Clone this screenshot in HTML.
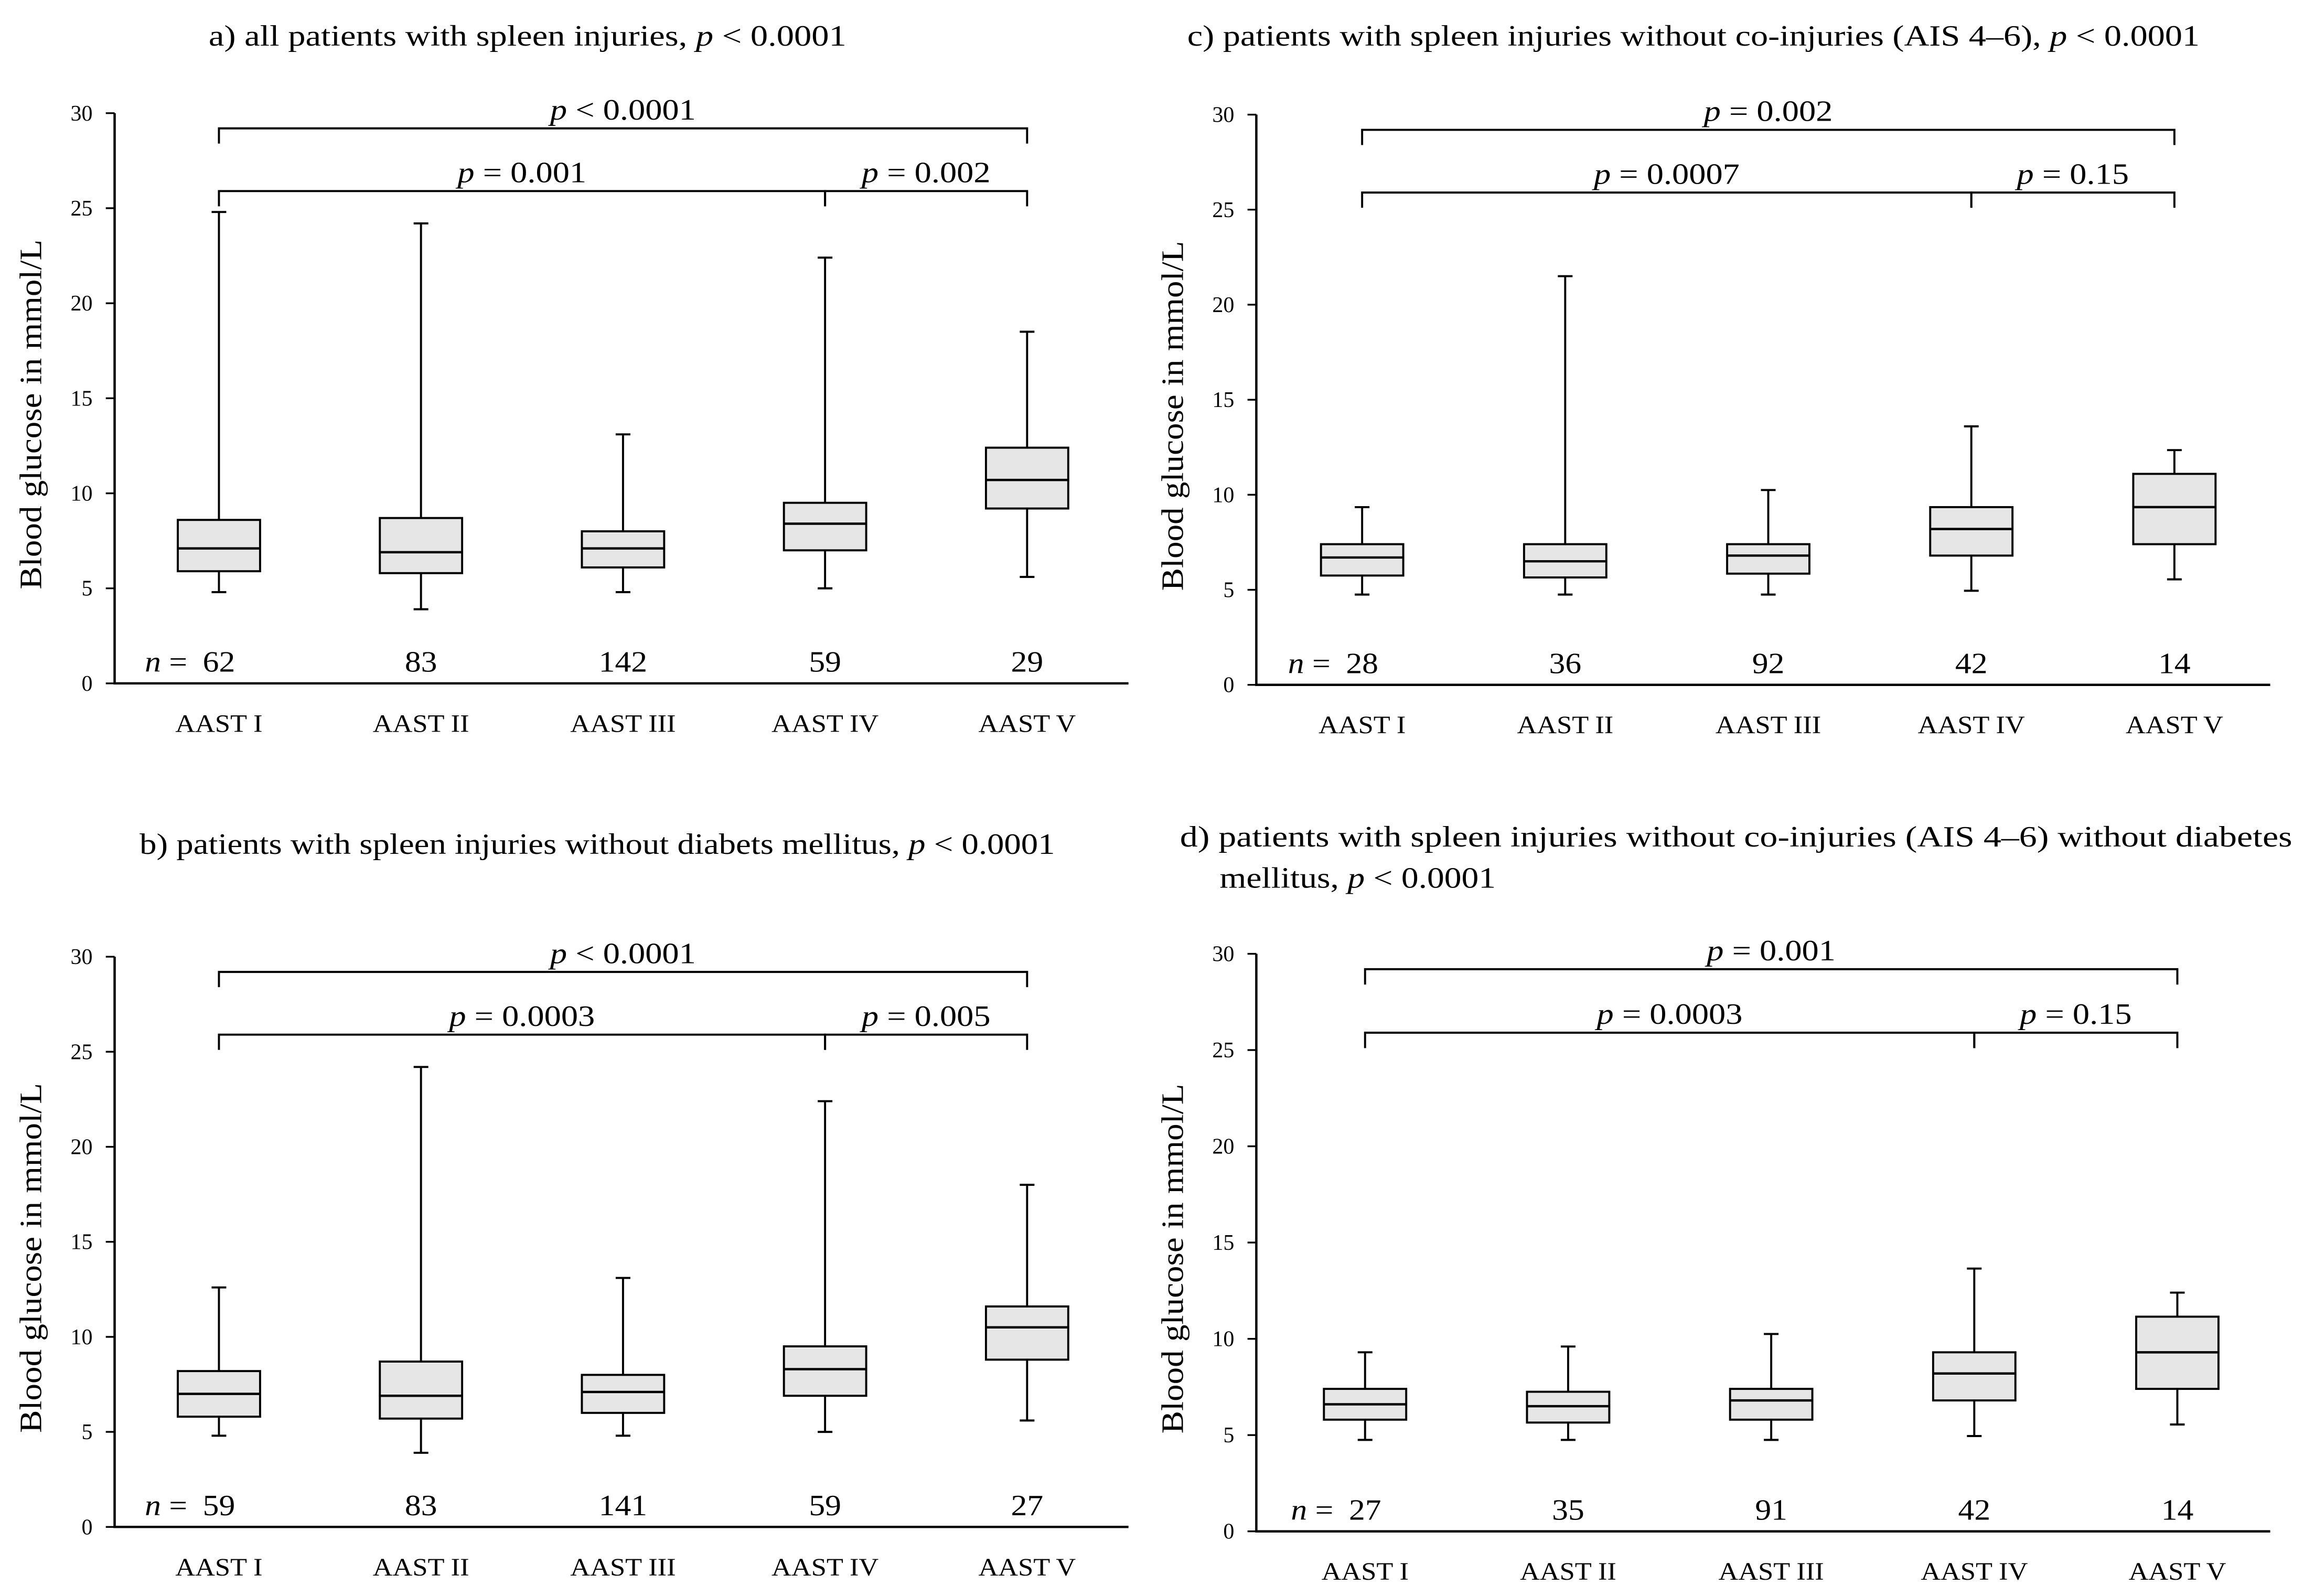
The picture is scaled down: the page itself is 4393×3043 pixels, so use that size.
<!DOCTYPE html>
<html><head><meta charset="utf-8"><style>
html,body{margin:0;padding:0;background:#fff}
svg{display:block}
text{font-family:"Liberation Serif",serif;fill:#000}
</style></head><body>
<svg id="fig" width="4393" height="3043" viewBox="0 0 1568 1086" preserveAspectRatio="none" xmlns="http://www.w3.org/2000/svg"></svg>
<script>
const categories = ["AAST I","AAST II","AAST III","AAST IV","AAST V"];
// [low whisker, Q1, median, Q3, high whisker]
const panelA = [[4.8,5.9,7.1,8.6,24.8],[3.9,5.8,6.9,8.7,24.2],[4.8,6.1,7.1,8.0,13.1],[5.0,7.0,8.4,9.5,22.4],[5.6,9.2,10.7,12.4,18.5]];
const panelB = [[4.8,5.8,7.0,8.2,12.6],[3.9,5.7,6.9,8.7,24.2],[4.8,6.0,7.1,8.0,13.1],[5.0,6.9,8.3,9.5,22.4],[5.6,8.8,10.5,11.6,18.0]];
const panelC = [[4.75,5.75,6.7,7.4,9.35],[4.75,5.65,6.5,7.4,21.5],[4.75,5.85,6.8,7.4,10.25],[4.95,6.8,8.2,9.35,13.6],[5.55,7.4,9.35,11.1,12.35]];
const panelD = [[4.75,5.8,6.6,7.4,9.3],[4.75,5.65,6.5,7.25,9.6],[4.75,5.8,6.8,7.4,10.25],[4.95,6.8,8.2,9.3,13.65],[5.55,7.4,9.3,11.15,12.4]];
const nA = ["62","83","142","59","29"];
const nB = ["59","83","141","59","27"];
const nC = ["28","36","92","42","14"];
const nD = ["27","35","91","42","14"];
const pA = ["p < 0.0001","p = 0.001","p = 0.002"];
const pB = ["p < 0.0001","p = 0.0003","p = 0.005"];
const pC = ["p = 0.002","p = 0.0007","p = 0.15"];
const pD = ["p = 0.001","p = 0.0003","p = 0.15"];
const yTicks = [0,5,10,15,20,25,30];

const NS="http://www.w3.org/2000/svg";
const svg=document.getElementById('fig');
function mk(tag,attrs,parent){const e=document.createElementNS(NS,tag);for(const k in attrs)e.setAttribute(k,attrs[k]);(parent||svg).appendChild(e);return e;}
function ptext(parent,x,y,str,size,anchor,sx){
  const t=mk('text',{x:0,y:0,'font-size':size,'text-anchor':anchor||'middle',transform:`translate(${x},${y}) scale(${sx||1},1)`},parent);
  const m=str.match(/^(p|n)(.*)$/);
  if(m){const s=mk('tspan',{'font-style':'italic'},t);s.textContent=m[1];const r=mk('tspan',{},t);r.textContent=m[2];}
  else t.textContent=str;
  return t;
}
function panel(cfg){
  const g=mk('g',{});
  
  
  const ax=cfg.ax, y0=cfg.y0, y30=cfg.y30;
  const ys=v=>y0-(y0-y30)*v/30;
  const xs=i=>cfg.cx0+i*cfg.step;
  cfg.title.forEach((ln,k)=>{
    const t=mk('text',{x:ln.x,y:ln.y,'font-size':20,textLength:ln.w,lengthAdjust:'spacingAndGlyphs'},g);
    
    
    ln.parts.forEach(p=>{const s=mk('tspan',p[1]?{'font-style':'italic'}:{},t);s.textContent=p[0];});
  });
  const axes=mk('path',{d:`M${ax} ${y30}V${y0}H${ax+690}`,stroke:'#000','stroke-width':1.6,fill:'none'},g);
  
  
  yTicks.forEach(v=>{
    mk('line',{x1:ax-6,x2:ax,y1:ys(v),y2:ys(v),stroke:'#000','stroke-width':1.2},g);
    const t=mk('text',{x:ax-15,y:ys(v)+5,'font-size':15,'text-anchor':'end'},g);
    
    
    t.textContent=v;
  });
  const yl=mk('text',{x:0,y:0,'font-size':21,'text-anchor':'middle',textLength:238,lengthAdjust:'spacingAndGlyphs',transform:`translate(${ax-50},${(y0+y30)/2+11}) rotate(-90)`},g);
  
  
  yl.textContent='Blood glucose in mmol/L';
  cfg.data.forEach((d,i)=>{
    const x=xs(i);
    const bx=mk('g',{},g);
    
    
    mk('line',{x1:x,x2:x,y1:ys(d[4]),y2:ys(d[3]),stroke:'#000','stroke-width':1.4},bx);
    mk('line',{x1:x,x2:x,y1:ys(d[1]),y2:ys(d[0]),stroke:'#000','stroke-width':1.4},bx);
    mk('line',{x1:x-5,x2:x+5,y1:ys(d[4]),y2:ys(d[4]),stroke:'#000','stroke-width':1.4},bx);
    mk('line',{x1:x-5,x2:x+5,y1:ys(d[0]),y2:ys(d[0]),stroke:'#000','stroke-width':1.4},bx);
    mk('rect',{x:x-28,y:ys(d[3]),width:56,height:ys(d[1])-ys(d[3]),fill:'#e6e6e6',stroke:'#000','stroke-width':1.4},bx);
    mk('line',{x1:x-28,x2:x+28,y1:ys(d[2]),y2:ys(d[2]),stroke:'#000','stroke-width':1.6},bx);
    const nt=ptext(g,x,y0-8,cfg.n[i],20,'middle',1.1);
    
    
    const xl=ptext(g,x,y0+33,categories[i],17,'middle',1.1);
    
    
  });
  const nl=ptext(g,xs(0)-36,y0-8,'n =',20,'middle',1.1);
  
  
  const br=[[0,4,29.2,28.4],[0,3,25.9,25.1],[3,4,25.9,25.1]];
  br.forEach((b,k)=>{
    const x1=xs(b[0]),x2=xs(b[1]);
    const p=mk('path',{d:`M${x1} ${ys(b[3])}V${ys(b[2])}H${x2}V${ys(b[3])}`,stroke:'#000','stroke-width':1.4,fill:'none'},g);
    
    
    const t=ptext(g,(x1+x2)/2,ys(b[2])-6,cfg.p[k],20,'middle',1.15);
    
    
  });
}
panel({name:'panel-a',ax:78,y0:465,y30:77,cx0:149,step:137.5,data:panelA,n:nA,p:pA,
  title:[{x:142,y:31,w:434,parts:[["a) all patients with spleen injuries, ",0],["p",1],[" < 0.0001",0]]}]});
panel({name:'panel-c',ax:855,y0:466,y30:78,cx0:927,step:138.2,data:panelC,n:nC,p:pC,
  title:[{x:808,y:31,w:689,parts:[["c) patients with spleen injuries without co-injuries (AIS 4–6), ",0],["p",1],[" < 0.0001",0]]}]});
panel({name:'panel-b',ax:78,y0:1039,y30:651,cx0:149,step:137.5,data:panelB,n:nB,p:pB,
  title:[{x:95,y:581,w:623,parts:[["b) patients with spleen injuries without diabets mellitus, ",0],["p",1],[" < 0.0001",0]]}]});
panel({name:'panel-d',ax:855,y0:1042,y30:649,cx0:929,step:138.2,data:panelD,n:nD,p:pD,
  title:[{x:803,y:576,w:757,parts:[["d) patients with spleen injuries without co-injuries (AIS 4–6) without diabetes",0]]},
         {x:830,y:604,w:188,parts:[["mellitus, ",0],["p",1],[" < 0.0001",0]]}]});
</script>
</body></html>
